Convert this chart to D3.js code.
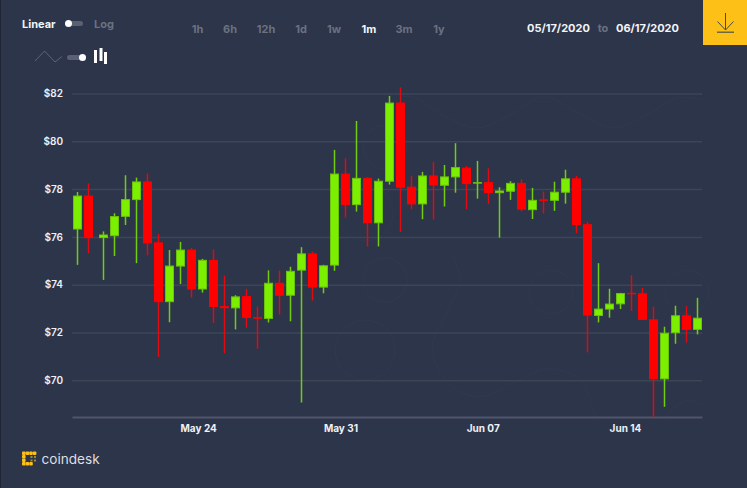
<!DOCTYPE html>
<html>
<head>
<meta charset="utf-8">
<title>Price chart</title>
<script src="https://cdn.jsdelivr.net/npm/d3@7/dist/d3.min.js"></script>
<style>
  html, body { margin: 0; padding: 0; background: #2d354a; overflow: hidden; }
  svg { display: block; }
  text { font-family: Inter, Roboto, sans-serif; }
</style>
</head>
<body>
<svg id="chart" width="747" height="488"></svg>
<script>
// Hours elapsed since the first candle opened
const hours = [0,13,30,43,56,69,82,95,108,121,134,147,160,173,186,199,212,225,238,251,264,277,290,303,316,329,342,355,368,381,394,407,420,433,446,459,472,485,498,511,524,537,550,563,576,589,602,615,628,641,654,667,680,693,706,719,732];
const opens  = [76.33,77.71,75.97,76.05,76.86,77.56,78.3,75.75,73.29,74.78,75.45,73.82,75.01,73.08,73.03,73.5,72.62,72.59,74.06,73.56,74.61,75.29,73.9,74.82,78.63,77.35,78.45,76.59,78.33,81.6,78.08,77.38,78.55,78.16,78.51,78.88,78.25,78.27,77.85,77.91,78.24,77.14,77.55,77.53,77.87,78.43,76.51,72.71,72.98,73.2,73.64,73.62,72.53,70.06,71.99,72.7,72.13];
const closes = [77.71,75.97,76.08,76.85,77.56,78.3,75.75,73.29,74.78,75.45,73.82,75.02,73.09,73.04,73.49,72.63,72.6,74.06,73.56,74.56,75.29,73.9,74.79,78.63,77.35,78.45,76.59,78.33,81.6,78.08,77.38,78.55,78.17,78.51,78.9,78.23,78.27,77.85,77.92,78.24,77.16,77.53,77.54,77.87,78.43,76.51,72.73,72.98,73.19,73.63,73.63,72.55,70.06,71.97,72.7,72.13,72.6];
const highs  = [77.88,78.24,76.23,76.99,78.58,78.48,78.65,76.12,75.45,75.79,75.54,75.08,75.48,74.38,73.56,73.83,73.09,74.6,74.59,74.75,75.57,75.39,74.83,79.64,79.29,80.85,78.5,78.44,81.9,82.26,78.56,78.72,79.14,79.01,79.92,78.97,79.18,78.87,78.08,78.33,78.41,78.05,77.9,78.31,78.81,78.56,76.63,74.9,73.83,73.66,74.39,73.87,73.08,72.24,73.12,73.1,73.45];
const lows   = [74.83,75.31,74.2,75.2,76.5,74.9,75.23,70.98,72.43,74.03,73.46,73.67,72.4,71.14,72.13,72.2,71.32,72.42,72.75,72.47,69.07,73.34,73.64,74.58,76.81,77.06,75.6,75.6,78.19,76.21,77.16,76.74,76.72,77.27,77.85,77.16,77.6,77.38,75.97,77.55,77.07,76.75,76.98,77.09,77.39,76.16,71.17,72.42,72.62,72.98,72.91,72.55,68.47,68.89,71.53,71.58,71.92];

const priceTicks = [70,72,74,76,78,80,82];
const dateTicks = ["2020-05-24","2020-05-31","2020-06-07","2020-06-14"];
const rangeOptions = ["1h","6h","12h","1d","1w","1m","3m","1y"];
const rangeActive = "1m";
const dateFrom = "05/17/2020";
const dateTo = "06/17/2020";
const scaleNames = ["Linear","Log"];
const brandName = "coindesk";

const BG = "#2d354a", GRID = "#3d4557", AXIS = "#50576a", MUTED = "#6b7180", YELLOW = "#fcc016", FAINT = "#31394e";
const UP = "#7cef00", UP_EDGE = "#6bc20a", UP_WICK = "#72cc10", DOWN = "#ff0000", DOWN_WICK = "#e00a10";

const svg = d3.select("#chart");
svg.append("rect").attr("width", 747).attr("height", 488).attr("fill", BG);
svg.append("rect").attr("width", 1).attr("height", 488).attr("fill", "#1f2534");

// Faint brand watermark behind the plot
const outline = d3.line().curve(d3.curveCatmullRom);
const watermark = svg.append("g").attr("fill", "none").attr("stroke", FAINT).attr("stroke-width", 1);
[
  [[400,97],[413,97],[443,115],[477,128],[510,115],[543,97],[577,112],[613,128],[647,115],[677,98],[702,100]],
  [[450,250],[460,280],[447,312],[432,350],[450,385],[480,397],[513,383],[547,369],[580,380],[595,417]],
  [[665,417],[687,400],[702,405]]
].forEach(pts => watermark.append("path").attr("d", outline(pts)));
[[551,292,22],[687,292,22],[365,350,30],[365,213,28],[385,147,22],[385,280,22]].forEach(([cx, cy, r]) =>
  watermark.append("circle").attr("cx", cx).attr("cy", cy).attr("r", r));

const firstCandle = new Date(2020, 4, 18, 2);
const atHour = h => d3.timeHour.offset(firstCandle, h);
const candles = hours.map((h, i) => ({
  t: atHour(h), o: opens[i], c: closes[i], h: highs[i], l: lows[i]
}));

const x = d3.scaleTime()
  .domain([atHour(-6.26), atHour(737.5)])
  .range([72, 702]);
const y = d3.scaleLinear().domain([70, 82]).range([380.3, 93.5]);

// Horizontal price gridlines with dollar labels
const yAxis = d3.axisLeft(y).tickValues(priceTicks).tickSize(-630).tickPadding(9).tickFormat(d => "$" + d);
const gy = svg.append("g").attr("transform", "translate(72,0)").call(yAxis);
gy.select(".domain").remove();
gy.selectAll("line").attr("stroke", GRID).attr("stroke-width", 1.5);
gy.selectAll("text").attr("fill", "#eef1f6").attr("font-size", 10).attr("font-weight", 600)
  .attr("font-family", "Inter, Roboto, sans-serif");

// Date axis along the bottom
const xAxis = d3.axisBottom(x)
  .tickValues(dateTicks.map(d => d3.timeParse("%Y-%m-%d")(d)))
  .tickSize(0).tickPadding(8).tickFormat(d3.timeFormat("%b %d"));
const gx = svg.append("g").attr("transform", "translate(0,417)").call(xAxis);
gx.select(".domain").attr("stroke", AXIS).attr("stroke-width", 2);
gx.selectAll("text").attr("fill", "#eef1f6").attr("font-size", 10).attr("font-weight", 700)
  .attr("font-family", "Inter, Roboto, sans-serif");

// Candlesticks: one wick and one body per session
const g = svg.append("g").selectAll("g").data(candles).join("g")
  .attr("transform", d => `translate(${Math.round(x(d.t) - 0.5) + 0.5},0)`);
g.append("line")
  .attr("y1", d => y(d.h)).attr("y2", d => y(d.l))
  .attr("stroke", d => d.c >= d.o ? UP_WICK : DOWN_WICK).attr("stroke-width", 1.5);
g.append("rect")
  .attr("x", -4).attr("width", 8)
  .attr("y", d => Math.min(y(d.o), y(d.c)))
  .attr("height", d => Math.max(Math.abs(y(d.o) - y(d.c)), 0.5))
  .attr("fill", d => d.c >= d.o ? UP : DOWN)
  .attr("stroke", d => d.c >= d.o ? UP_EDGE : DOWN).attr("stroke-width", 1);

// Linear / log switch
const head = svg.append("g").attr("font-size", 11).attr("font-weight", 700);
head.append("text").attr("x", 22).attr("y", 28).attr("fill", "#f2f4f8").text(scaleNames[0]);
head.append("text").attr("x", 94).attr("y", 28).attr("fill", MUTED).text(scaleNames[1]);
head.append("rect").attr("x", 65).attr("y", 21).attr("width", 18).attr("height", 5).attr("rx", 2.5).attr("fill", "#5b6172");
head.append("circle").attr("cx", 68.5).attr("cy", 23.5).attr("r", 3.5).attr("fill", "#fff");

// Line / candle switch
svg.append("path").attr("d", "M35 61L44.5 51L55 62L62 56.5").attr("fill", "none").attr("stroke", "#5d6475").attr("stroke-width", 1);
svg.append("rect").attr("x", 67).attr("y", 55).attr("width", 19).attr("height", 5).attr("rx", 2.5).attr("fill", "#5b6172");
svg.append("circle").attr("cx", 82.5).attr("cy", 57.5).attr("r", 3.5).attr("fill", "#fff");
[[94, 50, 13], [99.5, 48, 13], [104, 52, 12]].forEach(([bx, by, bh]) => {
  svg.append("rect").attr("x", bx).attr("y", by).attr("width", 3).attr("height", bh).attr("fill", "#fff");
});

// Range buttons
const rangeCentres = { "1h": 197.5, "6h": 230, "12h": 266, "1d": 301, "1w": 334, "1m": 369, "3m": 404, "1y": 439 };
svg.append("g").selectAll("text").data(rangeOptions).join("text")
  .attr("x", d => rangeCentres[d]).attr("y", 33).attr("text-anchor", "middle")
  .attr("font-size", 11).attr("font-weight", 700)
  .attr("fill", d => d === rangeActive ? "#f2f4f8" : MUTED).text(d => d);

// Selected date span
const dates = svg.append("g").attr("font-size", 11).attr("font-weight", 700);
dates.append("text").attr("x", 527).attr("y", 32).attr("fill", "#f2f4f8").text(dateFrom);
dates.append("text").attr("x", 603).attr("y", 32).attr("text-anchor", "middle").attr("fill", MUTED).text("to");
dates.append("text").attr("x", 616).attr("y", 32).attr("fill", "#f2f4f8").text(dateTo);

// Download button
svg.append("rect").attr("x", 703).attr("y", 0).attr("width", 44).attr("height", 45).attr("fill", YELLOW);
svg.append("path").attr("d", "M725.5 13V30M717.5 21.5L725.5 30L733.5 21.5").attr("fill", "none").attr("stroke", "#4a4a3e").attr("stroke-width", 1);
svg.append("rect").attr("x", 717).attr("y", 31.5).attr("width", 17).attr("height", 1.5).attr("fill", "#6e6a40");

// Brand mark: dotted square with the wordmark beside it
const brightDots = [[22,451.5],[25.6,451.5],[29.2,451.5],[32.8,451.5],[22,455],[22,458.5],[22,462],[25.6,462],[29.2,462]];
const dimDots = [[30.5,456],[34,456],[30.5,459.5],[34,459.5]];
svg.append("g").selectAll("rect").data(brightDots).join("rect")
  .attr("x", d => d[0]).attr("y", d => d[1]).attr("width", 3.6).attr("height", 3.6).attr("rx", 1).attr("fill", YELLOW);
svg.append("g").selectAll("rect").data(dimDots).join("rect")
  .attr("x", d => d[0]).attr("y", d => d[1]).attr("width", 2).attr("height", 2).attr("fill", "#a48a2c");
svg.append("text").attr("x", 41.5).attr("y", 464.3).attr("fill", "#dcdfe4")
  .attr("font-family", "Lato, sans-serif").attr("font-size", 13.6).text(brandName);
</script>
</body>
</html>
